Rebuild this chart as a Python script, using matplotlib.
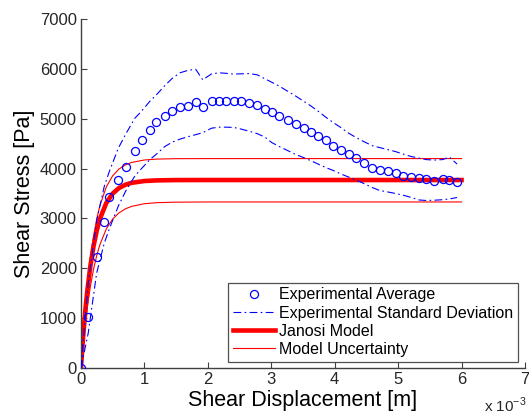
import numpy as np
import matplotlib
matplotlib.use('Agg')
import matplotlib.pyplot as plt
from matplotlib.ticker import FuncFormatter

plt.rcParams['font.family'] = ['Liberation Sans', 'DejaVu Sans']
plt.rcParams['mathtext.fontset'] = 'custom'
plt.rcParams['mathtext.rm'] = 'Liberation Sans'

# experimental average (displacement in mm, stress in Pa)
avg_x = [0.00, 0.115, 0.247, 0.367, 0.45, 0.59, 0.71, 0.85, 0.955, 1.087,
         1.19, 1.32, 1.44, 1.56, 1.69, 1.81, 1.92, 2.06, 2.18, 2.29,
         2.41, 2.53, 2.65, 2.78, 2.90, 3.01, 3.13, 3.26, 3.39, 3.51,
         3.62, 3.74, 3.86, 3.98, 4.10, 4.22, 4.34, 4.46, 4.59, 4.71,
         4.84, 4.96, 5.08, 5.21, 5.33, 5.44, 5.57, 5.70, 5.81, 5.93]
avg_y = [0, 1026, 2226, 2920, 3426, 3774, 4040, 4354, 4566, 4774,
         4940, 5060, 5146, 5240, 5260, 5326, 5240, 5360, 5360, 5360,
         5346, 5346, 5314, 5274, 5194, 5126, 5060, 4974, 4894, 4814,
         4726, 4660, 4564, 4460, 4374, 4294, 4206, 4106, 4006, 3980,
         3946, 3906, 3860, 3826, 3806, 3794, 3760, 3794, 3774, 3726]

# experimental standard deviation band (same x as the average)
sd_upper = [0, 1700, 2950, 3640, 3950, 4410, 4700, 5010, 5150, 5350,
            5480, 5660, 5810, 5920, 5970, 5990, 5780, 5900, 5920, 5910,
            5895, 5900, 5905, 5880, 5800, 5730, 5650, 5550, 5450, 5350,
            5260, 5150, 5030, 4920, 4820, 4710, 4620, 4540, 4460, 4420,
            4380, 4340, 4290, 4240, 4210, 4180, 4170, 4180, 4230, 4090]
sd_lower = [0, 700, 1900, 2500, 2800, 3250, 3560, 3850, 4000, 4180,
            4290, 4440, 4530, 4590, 4640, 4680, 4720, 4810, 4830, 4830,
            4825, 4790, 4750, 4700, 4630, 4520, 4440, 4360, 4280, 4220,
            4160, 4090, 4020, 3960, 3890, 3830, 3770, 3700, 3620, 3560,
            3530, 3500, 3465, 3420, 3370, 3360, 3365, 3375, 3390, 3420]

# Janosi model and its uncertainty
mod_x = [0, 0.025, 0.05, 0.075, 0.1, 0.15, 0.2, 0.25, 0.3, 0.4, 0.5,
         0.6, 0.7, 0.8, 1.0, 1.2, 1.5, 2.0, 3.0, 4.0, 5.0, 6.0]
janosi = [0, 465, 872, 1229, 1542, 2058, 2454, 2759, 2994, 3310, 3498,
          3610, 3675, 3714, 3750, 3763, 3769, 3770, 3770, 3770, 3770, 3770]
unc_upper = [0, 494, 929, 1313, 1653, 2216, 2655, 2997, 3263, 3632, 3855,
             3991, 4073, 4123, 4172, 4190, 4198, 4200, 4200, 4200, 4200, 4200]
unc_lower = [0, 358, 677, 962, 1216, 1646, 1988, 2261, 2478, 2790, 2987,
             3112, 3192, 3242, 3295, 3316, 3326, 3330, 3330, 3330, 3330, 3330]

# convert mm -> m
avg_x = np.array(avg_x) * 1e-3
mod_x = np.array(mod_x) * 1e-3

fig = plt.figure(figsize=(5.29, 4.17), dpi=100)
ax = fig.add_axes([0.153, 0.1175, 0.8394, 0.837])

dash = (0, (7, 3, 1.5, 3))
ax.plot(avg_x, avg_y, 'o', color='#0000ff', mfc='none', ms=5.8, mew=0.9,
        label='Experimental Average', zorder=4)
ax.plot(avg_x, sd_upper, color='#0000ff', lw=0.8, linestyle=dash,
        label='Experimental Standard Deviation', zorder=3)
ax.plot(avg_x, sd_lower, color='#0000ff', lw=0.8, linestyle=dash, zorder=3)
ax.plot(mod_x, janosi, color='#ff0000', lw=3.3, label='Janosi Model', zorder=2)
ax.plot(mod_x, unc_upper, color='#ff0000', lw=0.8, label='Model Uncertainty', zorder=2)
ax.plot(mod_x, unc_lower, color='#ff0000', lw=0.8, zorder=2)

ax.set_xlim(0, 7e-3)
ax.set_ylim(0, 7000)
ax.set_xticks(np.arange(0, 8) * 1e-3)
ax.set_yticks(np.arange(0, 8000, 1000))
ax.xaxis.set_major_formatter(FuncFormatter(lambda v, p: '%d' % round(v * 1e3)))

for s in ['top', 'right']:
    ax.spines[s].set_visible(False)
for s in ['left', 'bottom']:
    ax.spines[s].set_color('#404040')
    ax.spines[s].set_linewidth(1.0)
ax.tick_params(direction='in', length=4, width=0.8, color='#404040',
               labelsize=12, labelcolor='#262626', pad=3)

ax.set_xlabel('Shear Displacement [m]', fontsize=15.5, labelpad=2)
ax.set_ylabel('Shear Stress [Pa]', fontsize=15.5, labelpad=3)
fig.text(0.995, 0.004, 'x 10$^{-3}$', ha='right', va='bottom',
         fontsize=11, color='#262626')

leg = ax.legend(loc='lower right', bbox_to_anchor=(0.9836, 0.018),
                fontsize=11.5, frameon=True, fancybox=False, numpoints=1,
                handlelength=2.6, handletextpad=0.25, labelspacing=0.2,
                borderpad=0.3, borderaxespad=0)
leg.get_frame().set_edgecolor('#262626')
leg.get_frame().set_linewidth(0.9)

fig.savefig('out.png', dpi=100)
